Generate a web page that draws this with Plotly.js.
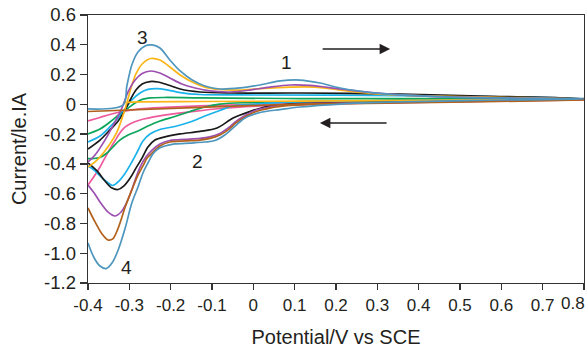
<!DOCTYPE html>
<html>
<head>
<meta charset="utf-8">
<script src="https://cdn.plot.ly/plotly-3.0.1.min.js"></script>
<style>html,body{margin:0;padding:0;background:#fff;}#chart{width:588px;height:348px;}</style>
</head>
<body>
<div id="chart"></div>
<script>
// Potential (V vs SCE) and current values, each curve: forward sweep then reverse sweep
const steelBlueX = [-0.400,-0.315,-0.306,-0.294,-0.279,-0.262,-0.245,-0.226,-0.202,-0.177,-0.148,-0.117,-0.081,-0.032,0.016,0.065,0.113,0.161,0.210,0.306,0.476,0.800,
  0.597,0.355,0.210,0.113,0.065,0.016,-0.020,-0.044,-0.069,-0.093,-0.117,-0.153,-0.190,-0.214,-0.231,-0.243,-0.255,-0.267,-0.279,-0.294,-0.310,-0.327,-0.342,-0.356,-0.371,-0.385,-0.400];
const steelBlueY = [-0.031,-0.004,0.123,0.264,0.351,0.392,0.399,0.378,0.298,0.224,0.163,0.123,0.103,0.110,0.130,0.157,0.163,0.143,0.110,0.073,0.049,0.036,
  0.029,0.016,0.002,-0.018,-0.035,-0.055,-0.092,-0.146,-0.206,-0.243,-0.253,-0.260,-0.266,-0.280,-0.300,-0.334,-0.394,-0.461,-0.555,-0.663,-0.831,-0.978,-1.066,-1.103,-1.086,-1.032,-0.931];

const brownX = [-0.400,-0.129,0.113,0.355,0.800,
  0.355,0.161,0.089,0.040,0.004,-0.020,-0.042,-0.061,-0.081,-0.105,-0.129,-0.165,-0.202,-0.226,-0.245,-0.257,-0.267,-0.279,-0.294,-0.310,-0.327,-0.340,-0.352,-0.366,-0.383,-0.400];
const brownY = [-0.048,-0.021,0.002,0.012,0.029,
  0.009,0.002,-0.008,-0.025,-0.051,-0.085,-0.125,-0.172,-0.206,-0.229,-0.240,-0.246,-0.253,-0.280,-0.327,-0.360,-0.414,-0.475,-0.575,-0.690,-0.831,-0.904,-0.911,-0.871,-0.790,-0.696];

const purpleX = [-0.400,-0.383,-0.359,-0.335,-0.318,-0.303,-0.286,-0.269,-0.248,-0.226,-0.202,-0.173,-0.141,-0.105,-0.056,-0.008,0.040,0.089,0.137,0.210,0.306,0.427,0.597,0.800,
  0.355,0.161,0.089,0.040,0.004,-0.020,-0.042,-0.061,-0.081,-0.105,-0.129,-0.165,-0.202,-0.226,-0.245,-0.260,-0.274,-0.286,-0.296,-0.308,-0.320,-0.335,-0.352,-0.371,-0.385,-0.400];
const purpleY = [-0.387,-0.340,-0.240,-0.119,-0.025,0.083,0.163,0.207,0.224,0.210,0.177,0.137,0.110,0.090,0.083,0.096,0.116,0.130,0.127,0.103,0.073,0.053,0.043,0.036,
  0.012,0.006,-0.004,-0.018,-0.041,-0.075,-0.115,-0.159,-0.196,-0.219,-0.229,-0.236,-0.243,-0.266,-0.307,-0.354,-0.421,-0.508,-0.589,-0.669,-0.723,-0.750,-0.723,-0.656,-0.596,-0.542];

const blackX = [-0.400,-0.371,-0.347,-0.327,-0.313,-0.298,-0.284,-0.269,-0.250,-0.231,-0.206,-0.177,-0.129,-0.056,0.113,0.355,0.548,0.800,
  0.476,0.234,0.089,0.028,-0.008,-0.049,-0.088,-0.129,-0.177,-0.214,-0.238,-0.255,-0.269,-0.284,-0.298,-0.313,-0.327,-0.342,-0.359,-0.376,-0.400];
const blackY = [-0.300,-0.240,-0.172,-0.112,-0.051,0.029,0.096,0.137,0.153,0.150,0.130,0.103,0.083,0.076,0.076,0.069,0.056,0.039,
  0.022,0.012,0.002,-0.018,-0.048,-0.092,-0.159,-0.182,-0.199,-0.219,-0.240,-0.287,-0.360,-0.428,-0.495,-0.548,-0.572,-0.562,-0.515,-0.454,-0.394];

const skyBlueX = [-0.400,-0.371,-0.347,-0.327,-0.310,-0.294,-0.274,-0.255,-0.233,-0.206,-0.177,-0.129,-0.032,0.355,0.800,
  0.476,0.234,0.065,-0.008,-0.049,-0.081,-0.117,-0.153,-0.190,-0.226,-0.250,-0.267,-0.281,-0.298,-0.313,-0.325,-0.340,-0.354,-0.371,-0.385,-0.400];
const skyBlueY = [-0.253,-0.213,-0.152,-0.092,-0.031,0.029,0.076,0.100,0.106,0.096,0.079,0.066,0.063,0.059,0.039,
  0.029,0.022,0.012,-0.001,-0.011,-0.041,-0.078,-0.119,-0.149,-0.169,-0.199,-0.246,-0.320,-0.407,-0.475,-0.515,-0.545,-0.522,-0.481,-0.441,-0.414];

const greenX = [-0.400,-0.371,-0.347,-0.323,-0.303,-0.286,-0.269,-0.250,-0.214,-0.129,0.113,0.800,
  0.355,0.113,-0.008,-0.081,-0.117,-0.153,-0.190,-0.226,-0.255,-0.279,-0.303,-0.323,-0.340,-0.354,-0.371,-0.388,-0.400];
const greenY = [-0.199,-0.166,-0.119,-0.065,-0.025,0.009,0.033,0.043,0.046,0.043,0.039,0.036,
  0.026,0.019,0.012,0.002,-0.018,-0.048,-0.082,-0.112,-0.146,-0.179,-0.206,-0.240,-0.287,-0.327,-0.357,-0.364,-0.364];

const goldX = [-0.400,-0.383,-0.371,-0.347,-0.330,-0.315,-0.306,-0.296,-0.284,-0.269,-0.248,-0.226,-0.202,-0.177,-0.148,-0.117,-0.081,-0.032,0.016,0.089,0.149,0.210,0.306,0.476,0.800,
  0.476,0.113,-0.129,-0.274,-0.315];
const goldY = [-0.421,-0.387,-0.354,-0.266,-0.186,-0.072,0.009,0.110,0.204,0.271,0.308,0.298,0.251,0.197,0.150,0.116,0.100,0.096,0.106,0.116,0.116,0.096,0.069,0.053,0.036,
  0.029,0.022,0.019,0.016,0.012];

const pinkX = [-0.400,-0.371,-0.347,-0.315,-0.274,-0.214,-0.129,0.113,0.355,0.800,
  0.403,0.161,0.016,-0.081,-0.153,-0.226,-0.274,-0.294,-0.310,-0.323,-0.335,-0.347,-0.359,-0.371,-0.383,-0.400];
const pinkY = [-0.112,-0.088,-0.068,-0.048,-0.031,-0.021,-0.011,0.006,0.016,0.029,
  0.016,0.002,-0.011,-0.028,-0.051,-0.078,-0.105,-0.125,-0.152,-0.193,-0.246,-0.300,-0.360,-0.421,-0.475,-0.542];

const xTickVals = [-0.4,-0.3,-0.2,-0.1,0,0.1,0.2,0.3,0.4,0.5,0.6,0.7,0.8];
const xTickText = ["-0.4","-0.3","-0.2","-0.1","0","0.1","0.2","0.3","0.4","0.5","0.6","0.7","0.8"];
const yTickVals = [0.6,0.4,0.2,0,-0.2,-0.4,-0.6,-0.8,-1.0,-1.2];
const yTickText = ["0.6","0.4","0.2","0","-0.2","-0.4","-0.6","-0.8","-1.0","-1.2"];

const curves = [
  {x: pinkX, y: pinkY, color: '#ee5b9c'},
  {x: greenX, y: greenY, color: '#0ba659'},
  {x: skyBlueX, y: skyBlueY, color: '#19b2ea'},
  {x: blackX, y: blackY, color: '#1a1a1a'},
  {x: goldX, y: goldY, color: '#fbb516'},
  {x: purpleX, y: purpleY, color: '#9d50b0'},
  {x: brownX, y: brownY, color: '#b2611c'},
  {x: steelBlueX, y: steelBlueY, color: '#4e96bd'}
];

const traces = curves.map(c => ({
  type: 'scatter', mode: 'lines', x: c.x, y: c.y,
  line: {color: c.color, width: 1.7, shape: 'spline', smoothing: 0.9},
  hoverinfo: 'skip', showlegend: false
}));

const font = {family: '"Liberation Sans", Arial, sans-serif', color: '#231f20'};
const f = s => Object.assign({size: s}, font);

// last x tick label drawn as an annotation so that it stays inside the page, as in the original
const lastIdx = xTickText.length - 1;
const xTickTextShown = xTickText.map((t, i) => i === lastIdx ? '' : t);

const layout = {
  width: 588, height: 348,
  margin: {l: 88, r: 4, t: 15, b: 65},
  paper_bgcolor: '#fff', plot_bgcolor: '#fff',
  font: font,
  showlegend: false,
  xaxis: {
    range: [-0.4, 0.8], tickvals: xTickVals, ticktext: xTickTextShown,
    showgrid: false, zeroline: false, showline: true, mirror: true,
    linecolor: '#333', linewidth: 1.3, ticks: 'outside', ticklen: 6, tickwidth: 1.3, tickcolor: '#333',
    tickfont: f(17),
    title: {text: 'Potential/V vs SCE', font: f(20), standoff: 17}
  },
  yaxis: {
    range: [-1.2, 0.6], tickvals: yTickVals, ticktext: yTickText,
    showgrid: false, zeroline: false, showline: true, mirror: true,
    linecolor: '#333', linewidth: 1.3, ticks: 'outside', ticklen: 7, tickwidth: 1.3, tickcolor: '#333',
    tickfont: f(18.5),
    title: {text: 'Current/le.IA', font: f(20), standoff: 12}
  },
  annotations: [
    {x: xTickVals[lastIdx], y: 0, xref: 'x', yref: 'paper', yshift: -9, xshift: 3, xanchor: 'right', yanchor: 'top',
     text: xTickText[lastIdx], showarrow: false, font: f(17)},
    {x: -0.269, y: 0.452, text: '3', showarrow: false, font: f(19)},
    {x: 0.081, y: 0.284, text: '1', showarrow: false, font: f(19)},
    {x: -0.136, y: -0.387, text: '2', showarrow: false, font: f(19)},
    {x: -0.308, y: -1.099, text: '4', showarrow: false, font: f(19)},
    {x: 0.331, y: 0.372, ax: 0.164, ay: 0.372, xref: 'x', yref: 'y', axref: 'x', ayref: 'y',
     text: '', showarrow: true, arrowhead: 2, arrowsize: 1.4, arrowwidth: 1.5, arrowcolor: '#231f20'},
    {x: 0.161, y: -0.125, ax: 0.326, ay: -0.125, xref: 'x', yref: 'y', axref: 'x', ayref: 'y',
     text: '', showarrow: true, arrowhead: 2, arrowsize: 1.4, arrowwidth: 1.5, arrowcolor: '#231f20'}
  ]
};

Plotly.newPlot('chart', traces, layout, {staticPlot: true, displayModeBar: false});
</script>
</body>
</html>
